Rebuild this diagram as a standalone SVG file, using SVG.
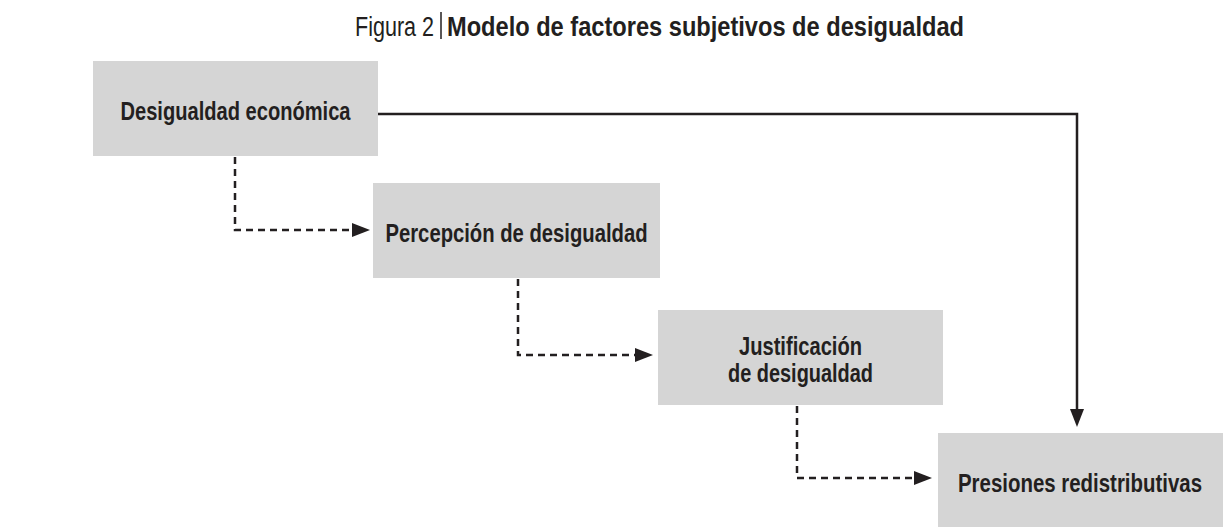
<svg xmlns="http://www.w3.org/2000/svg" width="1227" height="532" viewBox="0 0 1227 532">
  <defs>
    <style>
      .box { fill: #d5d5d5; }
      .lbl { font-family: "Liberation Sans", Arial, sans-serif; font-weight: bold; font-size: 25px; fill: #231f20; text-anchor: middle; }
      .title { font-family: "Liberation Sans", Arial, sans-serif; font-size: 27px; fill: #231f20; }
      .solid { fill: none; stroke: #231f20; stroke-width: 2.5; }
      .dash { fill: none; stroke: #231f20; stroke-width: 2.5; stroke-dasharray: 7 5; }
    </style>
    <marker id="arrow" viewBox="0 0 18 14" refX="0" refY="7" markerWidth="18" markerHeight="14" markerUnits="userSpaceOnUse" orient="auto">
      <path d="M0,0 L18,7 L0,14 Z" fill="#231f20"/>
    </marker>
  </defs>
  <rect width="1227" height="532" fill="#ffffff"/>

  <g id="title">
    <text class="title" x="355" y="36" textLength="79" lengthAdjust="spacingAndGlyphs">Figura 2</text>
    <line x1="441" y1="12" x2="441" y2="39" stroke="#231f20" stroke-width="1.5"/>
    <text class="title" x="447" y="36" font-weight="bold" textLength="517" lengthAdjust="spacingAndGlyphs">Modelo de factores subjetivos de desigualdad</text>
  </g>

  <g id="connectors">
    <path class="solid" d="M378,114 H1077 V409" marker-end="url(#arrow)"/>
    <path class="dash" d="M235,157 V230 H352" marker-end="url(#arrow)"/>
    <path class="dash" d="M518,279 V355 H635" marker-end="url(#arrow)"/>
    <path class="dash" d="M797,406 V478 H914" marker-end="url(#arrow)"/>
  </g>

  <g id="node-desigualdad-economica">
    <rect class="box" x="93" y="61" width="285" height="95"/>
    <text class="lbl" x="235.5" y="120" textLength="230" lengthAdjust="spacingAndGlyphs">Desigualdad económica</text>
  </g>

  <g id="node-percepcion">
    <rect class="box" x="373" y="183" width="287" height="95"/>
    <text class="lbl" x="516.5" y="242" textLength="262" lengthAdjust="spacingAndGlyphs">Percepción de desigualdad</text>
  </g>

  <g id="node-justificacion">
    <rect class="box" x="658" y="310" width="285" height="95"/>
    <text class="lbl" x="800.5" y="355" textLength="123" lengthAdjust="spacingAndGlyphs">Justificación</text>
    <text class="lbl" x="800.5" y="382" textLength="145" lengthAdjust="spacingAndGlyphs">de desigualdad</text>
  </g>

  <g id="node-presiones">
    <rect class="box" x="938" y="433" width="285" height="94"/>
    <text class="lbl" x="1080" y="492" textLength="244" lengthAdjust="spacingAndGlyphs">Presiones redistributivas</text>
  </g>
</svg>
